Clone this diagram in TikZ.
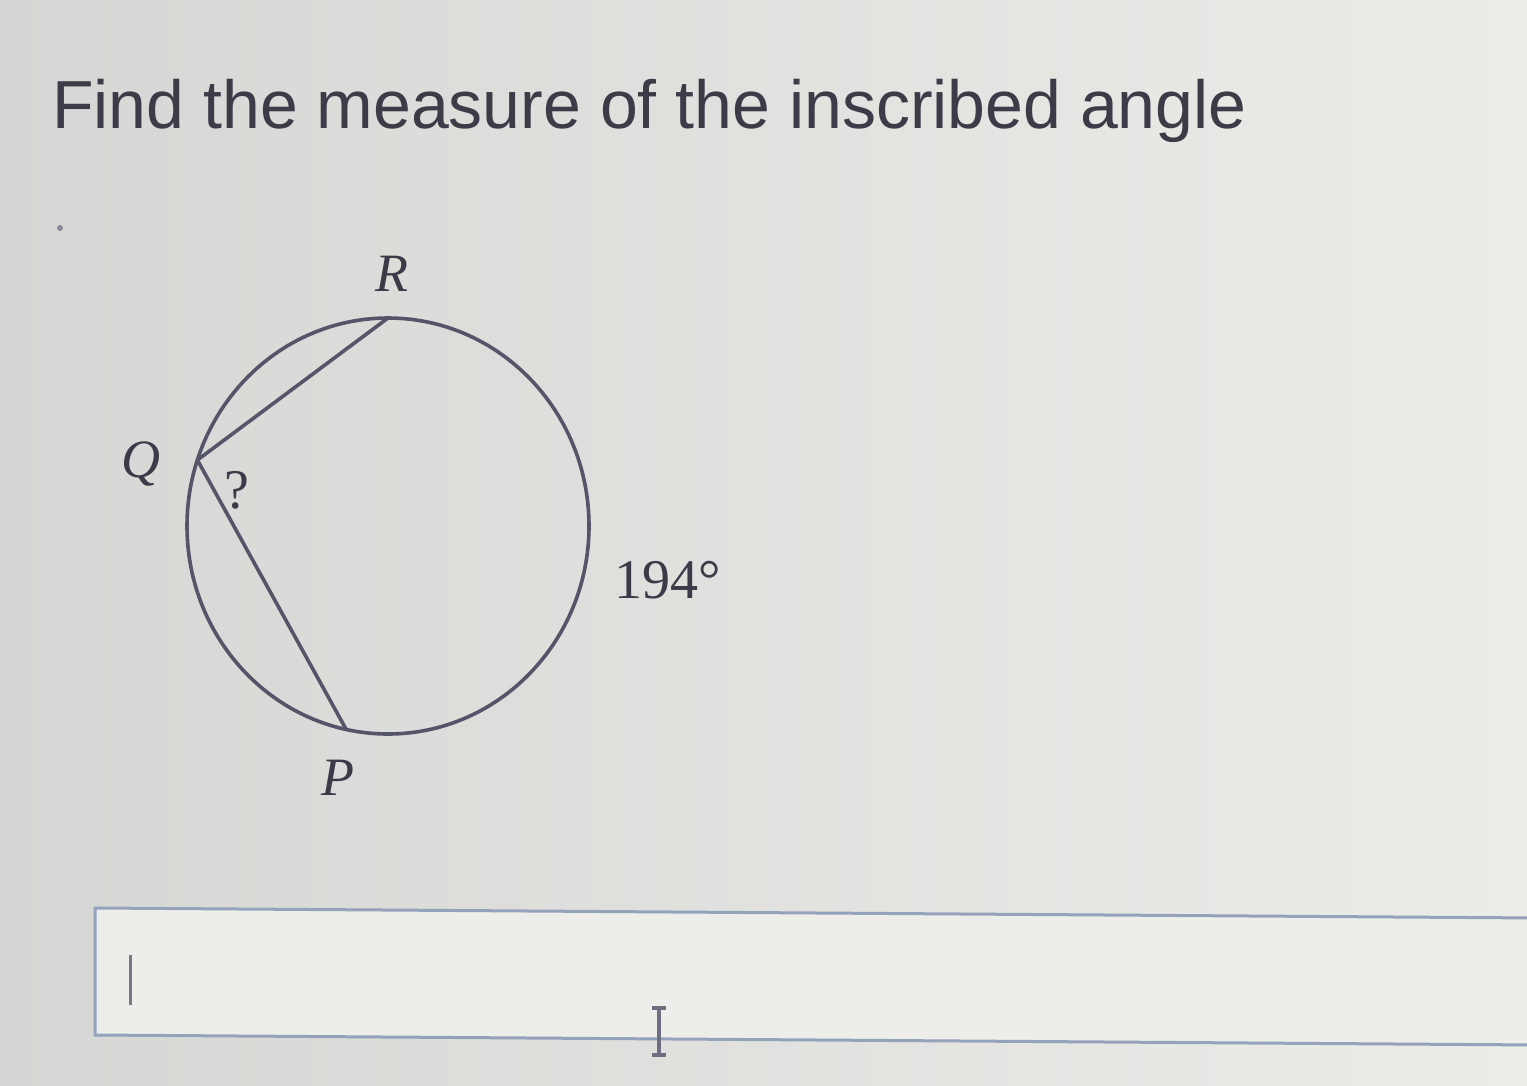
\documentclass[tikz,border=0pt]{standalone}
\usepackage{fontspec}
\setmainfont{Liberation Serif}
\newfontfamily\titlefont{Liberation Sans}
\begin{document}
\begin{tikzpicture}[x=1pt,y=1pt,
  geo/.style={draw=geoline,line width=3.6pt},
  ptlabel/.style={text=geotext,font=\fontsize{54}{60}\selectfont\itshape,inner sep=0pt},
  numlabel/.style={text=geotext,font=\fontsize{56}{60}\selectfont,inner sep=0pt}]
\definecolor{bgleft}{HTML}{D6D6D4}
\definecolor{bgright}{HTML}{ECECE9}
\definecolor{titlecol}{HTML}{3C3C48}
\definecolor{geoline}{HTML}{55556A}
\definecolor{geotext}{HTML}{3A3A48}
\definecolor{boxline}{HTML}{94A2BC}
\definecolor{boxfill}{HTML}{EDEDEA}
% background
\shade[left color=bgleft,right color=bgright] (0,0) rectangle (1527,-1085);
\useasboundingbox (0,0) rectangle (1527,-1085);
% title
\node[anchor=base west,inner sep=0pt,text=titlecol,font=\titlefont\fontsize{68}{72}\selectfont] (title) at (52,-128) {Find the measure of the inscribed angle};
% stray mark
\fill[geoline!70] (60,-228) circle (3);
% circle
\coordinate (O) at (388,-526);
\draw[geo] (O) ellipse (201 and 208);
\coordinate (R) at ([shift={(388,-526)}]90:201 and 208);
\coordinate (Q) at ([shift={(388,-526)}]161.5:201 and 208);
\coordinate (P) at ([shift={(388,-526)}]258:201 and 208);
\draw[geo,line join=round] (R) -- (Q) -- (P);
% labels
\node[ptlabel] (lR) at (392,-274) {R};
\node[ptlabel] (lQ) at (141,-464) {Q};
\node[ptlabel] (lP) at (338,-778) {P};
\node[numlabel] (lq) at (237,-490) {?};
\node[numlabel] (l194) at (668,-580) {194°};
% answer box
\filldraw[fill=boxfill,draw=boxline,line width=3pt] (1540,-918) -- (95,-908) -- (95,-1035) -- (1540,-1045);
% text cursor
\draw[draw=geoline!80,line width=3pt] (130,-955) -- (130,-1005);
% I-beam mouse cursor
\coordinate (ibTop) at (659,-1008);
\coordinate (ibBot) at (659,-1055);
\draw[draw=geoline!85,line width=3.5pt] (ibTop) -- (ibBot);
\draw[draw=geoline!85,line width=3.5pt] ([xshift=-7pt]ibTop) -- ([xshift=7pt]ibTop);
\draw[draw=geoline!85,line width=3.5pt] ([xshift=-7pt]ibBot) -- ([xshift=7pt]ibBot);
\end{tikzpicture}
\end{document}
